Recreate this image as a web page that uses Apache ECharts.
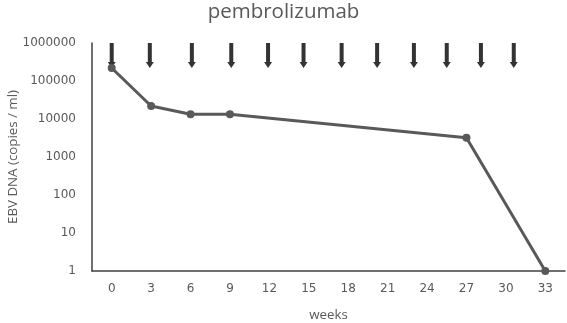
<!DOCTYPE html>
<html>
<head>
<meta charset="utf-8">
<script src="https://cdn.jsdelivr.net/npm/echarts@6/dist/echarts.min.js"></script>
<style>
  html, body { margin: 0; padding: 0; background: #fff; }
  #chart { width: 567px; height: 323px; }
</style>
</head>
<body>
<div id="chart"></div>
<script>
// x axis categories (weeks)
var weekLabels = ['0', '3', '6', '9', '12', '15', '18', '21', '24', '27', '30', '33'];
// measured EBV DNA load
var sampleWeeks = [0, 3, 6, 9, 27, 33];
var ebvValues = [220000, 22000, 13300, 13300, 3200, 1];
// pembrolizumab doses (arrows), as drawn on the week scale
var doseWeeks = [0, 2.9, 6.1, 9.1, 11.9, 14.6, 17.5, 20.2, 23, 25.5, 28.1, 30.6];
// y tick labels
var yTicks = ['1', '10', '100', '1000', '10000', '100000', '1000000'];

var grey = '#595959';
var font = '"Open Sans", "Noto Sans", sans-serif';
var tickFont = '"DejaVu Sans", sans-serif';

var lineData = weekLabels.map(function (w) {
    var i = sampleWeeks.indexOf(Number(w));
    return i >= 0 ? ebvValues[i] : null;
});
var arrowData = doseWeeks.map(function (w) { return [w, 1000000]; });

var chart = echarts.init(document.getElementById('chart'));
var option = {
    animation: false,
    title: {
        text: 'pembrolizumab',
        left: 'center',
        top: -3,
        textStyle: { color: grey, fontFamily: font, fontSize: 20.5, fontWeight: 'normal' }
    },
    grid: { left: 92, right: 2, top: 43, bottom: 52, containLabel: false, outerBoundsMode: 'none' },
    xAxis: [
        {
            type: 'category',
            data: weekLabels,
            boundaryGap: true,
            axisLine: { onZero: false, lineStyle: { color: '#404040', width: 1.5 } },
            axisTick: { show: false },
            axisLabel: { color: grey, fontFamily: tickFont, fontSize: 12, margin: 12 },
            name: 'weeks',
            nameLocation: 'middle',
            nameGap: 38,
            nameMoveOverlap: false,
            nameTextStyle: { color: grey, fontFamily: font, fontSize: 13.3 }
        },
        {
            type: 'value',
            min: -1.5,
            max: 34.5,
            show: false
        }
    ],
    yAxis: {
        type: 'log',
        logBase: 10,
        min: 1,
        max: 1000000,
        axisLine: { show: true, onZero: false, lineStyle: { color: '#404040', width: 1.5 } },
        axisTick: { show: false },
        splitLine: { show: false },
        axisLabel: {
            color: grey, fontFamily: tickFont, fontSize: 12, margin: 16,
            formatter: function (v) {
                return yTicks[Math.round(Math.log10(v))];
            }
        },
        name: 'EBV DNA (copies / ml)',
        nameLocation: 'middle',
        nameGap: 72,
        nameMoveOverlap: false,
        nameTextStyle: { color: grey, fontFamily: font, fontSize: 13.3 }
    },
    series: [
        {
            type: 'line',
            data: lineData,
            connectNulls: true,
            symbol: 'circle',
            symbolSize: 8,
            lineStyle: { color: grey, width: 3 },
            itemStyle: { color: grey }
        },
        {
            type: 'scatter',
            xAxisIndex: 1,
            data: arrowData,
            symbol: 'path://M2,0 L6,0 L6,19 L8,19 L4,25 L0,19 L2,19 Z',
            symbolSize: [8, 25],
            symbolOffset: [0, '50%'],
            itemStyle: { color: '#000' },
            clip: false
        }
    ]
};
chart.setOption(option);
</script>
</body>
</html>
